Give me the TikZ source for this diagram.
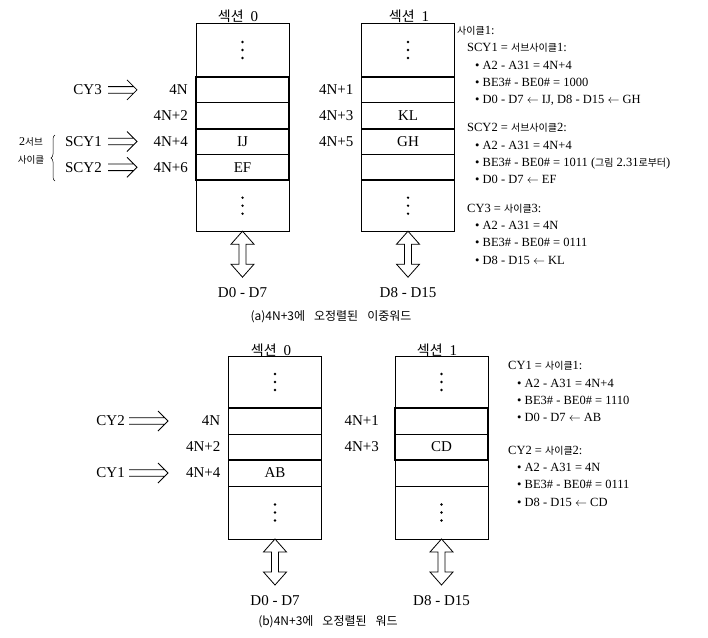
\documentclass[tikz,border=0pt]{standalone}
\usepackage{fontspec}
\setmainfont{Liberation Serif}
\newfontfamily\kr[Scale=0.8]{Noto Sans CJK KR}
\usetikzlibrary{calc, positioning, decorations.pathreplacing}

\tikzset{
  lbl/.style={inner sep=0pt, font=\fontsize{15}{17}\selectfont},
  cell/.style={draw, line width=0.8pt, minimum width=93pt, minimum height=25.8pt,
    inner sep=0pt, outer sep=0pt, font=\fontsize{15}{17}\selectfont},
  grp/.style={line width=1.8pt},
  note/.style={inner sep=0pt, anchor=north west, align=left, font=\fontsize{12.5}{17.3}\selectfont},
  capt/.style={inner sep=0pt, font=\kr\fontsize{15}{17}\selectfont},
  impl/.style={line width=0.8pt, to path={
      ($(\tikztostart)+(0,-3.3)$) -- ($(\tikztotarget)+(-3.3,-3.3)$)
      ($(\tikztostart)+(0,3.3)$) -- ($(\tikztotarget)+(-3.3,3.3)$)
      ($(\tikztotarget)+(-10,-10)$) -- (\tikztotarget) -- ($(\tikztotarget)+(-10,10)$)}},
  bus/.pic={\draw[line width=0.8pt] (0,0) -- (11.5,13) -- (3.5,13) -- (3.5,33)
      -- (11.5,33) -- (0,46) -- (-11.5,33) -- (-3.5,33) -- (-3.5,13) -- (-11.5,13) -- cycle;},
}
\newcommand{\kdots}[1]{\foreach \dy in {-8,0,8} \fill ($(#1)+(0,\dy)$) circle (1.3pt);}
\newcommand{\sechd}[1]{{\kr\fontsize{17.5}{20}\selectfont 섹션}\hspace{7pt}#1}

\begin{document}
\begin{tikzpicture}[x=1pt, y=-1pt]
  \useasboundingbox (0,0) rectangle (708,637);

  % ---- (a) section 0
  \node[lbl] (a0hd) at (238,16) {\sechd{0}};
  \node[cell, minimum height=54pt] (a0top) at (242.5,50) {};
  \node[cell, below=0pt of a0top] (a0r0) {};
  \node[cell, below=0pt of a0r0] (a0r1) {};
  \node[cell, below=0pt of a0r1] (a0r2) {IJ};
  \node[cell, below=0pt of a0r2] (a0r3) {EF};
  \node[cell, minimum height=51pt, below=0pt of a0r3] (a0bot) {};
  \draw[grp] (a0r0.north west) rectangle (a0r1.south east);
  \draw[grp] (a0r2.north west) rectangle (a0r3.south east);
  \kdots{a0top} \kdots{a0bot}
  \node[lbl, left=8pt of a0r0] (a0l0) {4N};
  \node[lbl, left=8pt of a0r1] (a0l1) {4N+2};
  \node[lbl, left=8pt of a0r2] (a0l2) {4N+4};
  \node[lbl, left=8pt of a0r3] (a0l3) {4N+6};
  \pic at (a0bot.south) {bus};
  \node[lbl, below=56pt of a0bot] (a0bus) {D0 - D7};

  % ---- (a) section 1
  \node[lbl] (a1hd) at (409,16) {\sechd{1}};
  \node[cell, minimum height=54pt] (a1top) at (408,50) {};
  \node[cell, below=0pt of a1top] (a1r0) {};
  \node[cell, below=0pt of a1r0] (a1r1) {KL};
  \node[cell, below=0pt of a1r1] (a1r2) {GH};
  \node[cell, below=0pt of a1r2] (a1r3) {};
  \node[cell, minimum height=51pt, below=0pt of a1r3] (a1bot) {};
  \draw[grp] (a1r0.north west) rectangle (a1r1.south east);
  \draw[grp] (a1r2.north west) rectangle (a1r3.south east);
  \kdots{a1top} \kdots{a1bot}
  \node[lbl, left=8pt of a1r0] (a1l0) {4N+1};
  \node[lbl, left=8pt of a1r1] (a1l1) {4N+3};
  \node[lbl, left=8pt of a1r2] (a1l2) {4N+5};
  \pic at (a1bot.south) {bus};
  \node[lbl, below=56pt of a1bot] (a1bus) {D8 - D15};

  % ---- (a) cycles
  \coordinate (cy3s) at (108,0 |- a0r0);  \coordinate (cy3t) at (137,0 |- a0r0);
  \coordinate (scy1s) at (108,0 |- a0r2); \coordinate (scy1t) at (137,0 |- a0r2);
  \coordinate (scy2s) at (108,0 |- a0r3); \coordinate (scy2t) at (137,0 |- a0r3);
  \node[lbl, left=6pt of cy3s] (cy3) {CY3};
  \node[lbl, left=6pt of scy1s] (scy1) {SCY1};
  \node[lbl, left=6pt of scy2s] (scy2) {SCY2};
  \draw[impl] (cy3s) to (cy3t);
  \draw[impl] (scy1s) to (scy1t);
  \draw[impl] (scy2s) to (scy2t);
  \draw[line width=0.5pt, decorate, decoration={brace, amplitude=4pt}] (55,181) -- (55,135);
  \node[align=center, inner sep=0pt, font=\fontsize{12}{18}\selectfont] (subcy) at (31,151)
    {2{\kr 서브}\\{\kr 사이클}};

  \node[note] (notea) at (457,26) {%
    {\kr 사이클}1:\\
    \hspace*{10pt}SCY1 = {\kr 서브사이클}1:\\
    \hspace*{18pt}• A2 - A31 = 4N+4\\
    \hspace*{18pt}• BE3\# - BE0\# = 1000\\
    \hspace*{18pt}• D0 - D7 $\leftarrow$ IJ, D8 - D15 $\leftarrow$ GH\\[11pt]
    \hspace*{10pt}SCY2 = {\kr 서브사이클}2:\\
    \hspace*{18pt}• A2 - A31 = 4N+4\\
    \hspace*{18pt}• BE3\# - BE0\# = 1011 ({\kr 그림} 2.31{\kr 로부터})\\
    \hspace*{18pt}• D0 - D7 $\leftarrow$ EF\\[11pt]
    \hspace*{10pt}CY3 = {\kr 사이클}3:\\
    \hspace*{18pt}• A2 - A31 = 4N\\
    \hspace*{18pt}• BE3\# - BE0\# = 0111\\
    \hspace*{18pt}• D8 - D15 $\leftarrow$ KL};

  \node[capt] (capa) at (331,317) {(a)4N+3에\hspace{9pt}오정렬된\hspace{9pt}이중워드};

  % ---- (b) section 0
  \node[lbl] (b0hd) at (271,350) {\sechd{0}};
  \node[cell, minimum height=52pt] (b0top) at (275,382) {};
  \node[cell, minimum height=26pt, below=0pt of b0top] (b0r0) {};
  \node[cell, minimum height=26pt, below=0pt of b0r0] (b0r1) {};
  \node[cell, minimum height=26pt, below=0pt of b0r1] (b0r2) {AB};
  \node[cell, minimum height=53pt, below=0pt of b0r2] (b0bot) {};
  \draw[grp] (b0r0.north west) rectangle (b0r1.south east);
  \kdots{b0top} \kdots{b0bot}
  \node[lbl, left=8pt of b0r0] (b0l0) {4N};
  \node[lbl, left=8pt of b0r1] (b0l1) {4N+2};
  \node[lbl, left=8pt of b0r2] (b0l2) {4N+4};
  \pic at (b0bot.south) {bus};
  \node[lbl, below=56pt of b0bot] (b0bus) {D0 - D7};

  % ---- (b) section 1
  \node[lbl] (b1hd) at (437,350) {\sechd{1}};
  \node[cell, minimum height=52pt] (b1top) at (441.5,382) {};
  \node[cell, minimum height=26pt, below=0pt of b1top] (b1r0) {};
  \node[cell, minimum height=26pt, below=0pt of b1r0] (b1r1) {CD};
  \node[cell, minimum height=26pt, below=0pt of b1r1] (b1r2) {};
  \node[cell, minimum height=53pt, below=0pt of b1r2] (b1bot) {};
  \draw[grp] (b1r0.north west) rectangle (b1r1.south east);
  \kdots{b1top} \kdots{b1bot}
  \node[lbl, left=16pt of b1r0] (b1l0) {4N+1};
  \node[lbl, left=16pt of b1r1] (b1l1) {4N+3};
  \pic at (b1bot.south) {bus};
  \node[lbl, below=56pt of b1bot] (b1bus) {D8 - D15};

  % ---- (b) cycles
  \coordinate (cy2s) at (129,0 |- b0r0); \coordinate (cy2t) at (168,0 |- b0r0);
  \coordinate (cy1s) at (129,0 |- b0r2); \coordinate (cy1t) at (168,0 |- b0r2);
  \node[lbl, left=4pt of cy2s] (cy2) {CY2};
  \node[lbl, left=4pt of cy1s] (cy1) {CY1};
  \draw[impl] (cy2s) to (cy2t);
  \draw[impl] (cy1s) to (cy1t);

  \node[note] (noteb) at (508,361.5) {%
    CY1 = {\kr 사이클}1:\\
    \hspace*{9pt}• A2 - A31 = 4N+4\\
    \hspace*{9pt}• BE3\# - BE0\# = 1110\\
    \hspace*{9pt}• D0 - D7 $\leftarrow$ AB\\[15pt]
    CY2 = {\kr 사이클}2:\\
    \hspace*{9pt}• A2 - A31 = 4N\\
    \hspace*{9pt}• BE3\# - BE0\# = 0111\\
    \hspace*{9pt}• D8 - D15 $\leftarrow$ CD};

  \node[capt] (capb) at (328,622) {(b)4N+3에\hspace{9pt}오정렬된\hspace{9pt}워드};
\end{tikzpicture}
\end{document}
